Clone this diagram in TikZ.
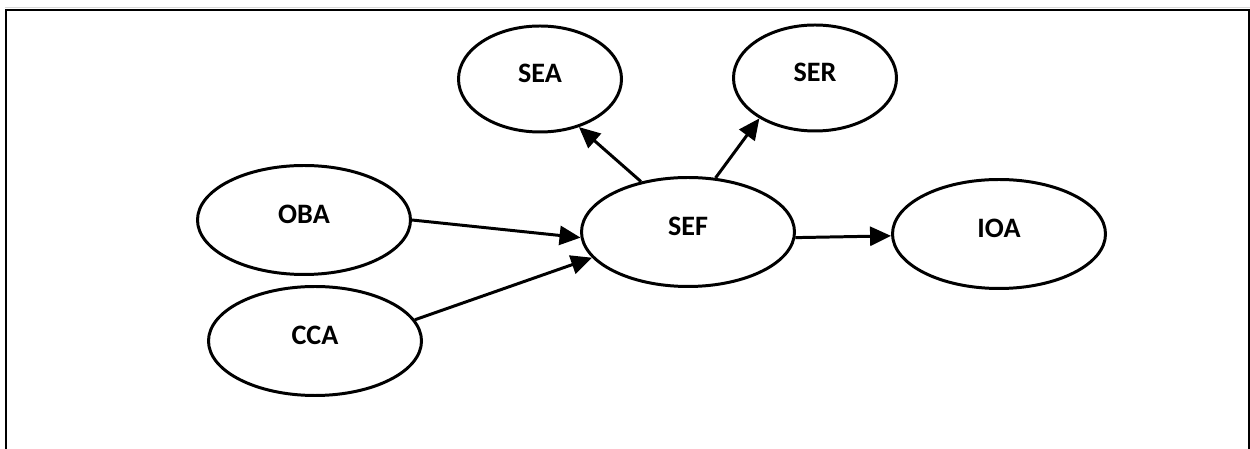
\documentclass[tikz,border=0pt]{standalone}
\usepackage{fontspec}
\setmainfont{Carlito}
\usetikzlibrary{shapes.geometric,arrows.meta}
\tikzset{
  construct/.style={ellipse, draw=black, line width=1.7pt, inner sep=0pt,
    minimum width=4.26cm, minimum height=2.18cm,
    font=\bfseries\fontsize{16}{19}\selectfont, text height=0.36cm, text depth=0.2cm},
  smallconstruct/.style={construct, minimum width=3.26cm, minimum height=2.12cm},
  link/.style={line width=1.7pt, -{Triangle[length=0.42cm, width=0.38cm]}},
  frameline/.style={line width=1.1pt, draw=black},
}

\begin{document}
\begin{tikzpicture}
\useasboundingbox (0,0) rectangle (25,8.98);
\draw[gray!30, line width=0.6pt] (0.1,8.83) -- (25,8.83);
\draw[frameline] (0.12,0) -- (0.12,8.78) -- (24.98,8.78) -- (24.98,0);
\node[smallconstruct] (sea) at (10.8,7.4) {SEA};
\node[smallconstruct] (ser) at (16.3,7.42) {SER};
\node[construct] (oba) at (6.08,4.58) {OBA};
\node[construct] (cca) at (6.3,2.16) {CCA};
\node[construct] (sef) at (13.76,4.34) {SEF};
\node[construct] (ioa) at (19.98,4.3) {IOA};
\draw[link] (oba.east) -- (sef.183);
\draw[link] (cca.12) -- (sef.195);
\draw[link] (sef.133) -- (sea.-51);
\draw[link] (sef.63) -- (ser.216);
\draw[link] (sef.-3) -- (ioa.181);
\end{tikzpicture}
\end{document}
